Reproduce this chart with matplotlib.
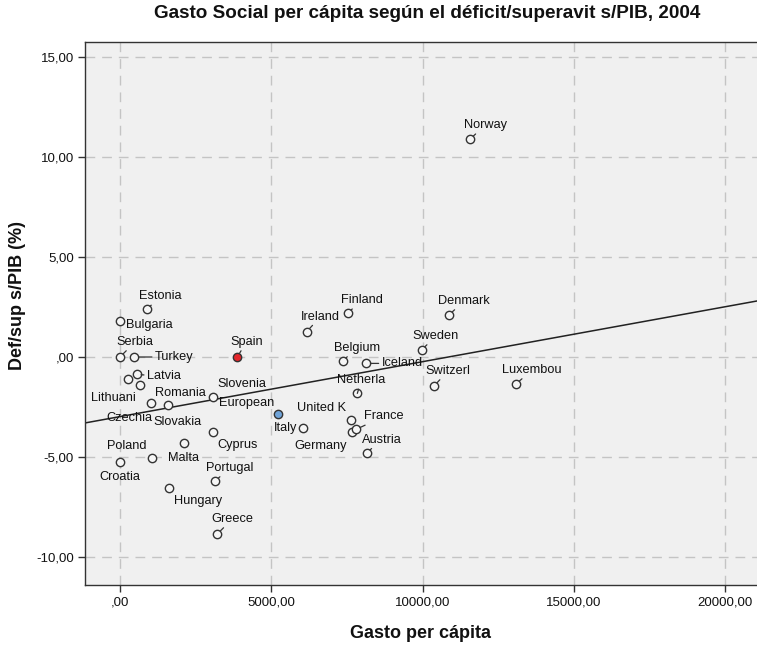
import matplotlib
matplotlib.use("Agg")
import matplotlib.pyplot as plt
import numpy as np

plt.rcParams['font.family'] = ['Liberation Sans', 'DejaVu Sans']

# ---- data ----
countries = ["Estonia", "Bulgaria", "Serbia", "Turkey", "Spain", "Lithuani", "Latvia",
             "Romania", "Czechia", "Slovakia", "Slovenia", "European", "Italy", "Cyprus",
             "Malta", "Poland", "Croatia", "Portugal", "Hungary", "Greece", "Germany",
             "United K", "France", "Austria", "Netherla", "Ireland", "Finland", "Belgium",
             "Iceland", "Denmark", "Sweden", "Switzerl", "Luxembou", "Norway"]
gasto = [882, 0, 0, 463, 3877, 275, 550,
         660, 1030, 1596, 3084, 5232, 6038, 3074,
         2125, 1048, 0, 3140, 1629, 3216, 7658,
         7625, 7800, 8153, 7843, 6170, 7526, 7360,
         8130, 10873, 9971, 10378, 13088, 11568]
deficit = [2.38, 1.78, 0.0, 0.0, 0.0, -1.12, -0.87,
           -1.40, -2.30, -2.42, -1.99, -2.85, -3.57, -3.77,
           -4.32, -5.04, -5.24, -6.20, -6.54, -8.85, -3.74,
           -3.15, -3.62, -4.79, -1.82, 1.27, 2.19, -0.20,
           -0.32, 2.10, 0.35, -1.45, -1.35, 10.89]
highlight = {"Spain": "#e3262b", "European": "#6fa3d8"}
fit_intercept = -2.98
fit_slope = 2.746e-4

x_ticks = [0, 5000, 10000, 15000, 20000]
x_ticklabels = [",00", "5000,00", "10000,00", "15000,00", "20000,00"]
y_ticks = [-10, -5, 0, 5, 10, 15]
y_ticklabels = ["-10,00", "-5,00", ",00", "5,00", "10,00", "15,00"]

# ---- label placement (offset in pixels from marker, x right, y up) ----
label_offsets = {
    "Estonia": (14, 13), "Bulgaria": (29, -4), "Serbia": (15, 15), "Turkey": (40, 0),
    "Spain": (9, 15), "Lithuani": (-15, -19), "Latvia": (27, -2), "Romania": (40, -8),
    "Czechia": (-22, -15), "Slovakia": (9, -17), "Slovenia": (29, 13), "European": (-32, 11),
    "Italy": (-17, 0), "Cyprus": (25, -13), "Malta": (-1, -15), "Poland": (-25, 12),
    "Croatia": (0, -15), "Portugal": (15, 13), "Hungary": (29, -13), "Greece": (15, 15),
    "Germany": (-31, -14), "United K": (-29, 12), "France": (28, 13), "Austria": (15, 13),
    "Netherla": (4, 13), "Ireland": (14, 15), "Finland": (14, 13), "Belgium": (14, 13),
    "Iceland": (36, 0), "Denmark": (15, 14), "Sweden": (14, 14), "Switzerl": (14, 15),
    "Luxembou": (16, 14), "Norway": (15, 14),
}
with_leader = {"Estonia", "Serbia", "Turkey", "Spain", "Latvia", "Portugal", "Greece",
               "Netherla", "Austria", "Ireland", "Finland", "Belgium", "Denmark", "Sweden",
               "Switzerl", "Norway", "Luxembou", "Iceland", "France"}

W, H, DPI = 757, 647, 100
fig = plt.figure(figsize=(W / DPI, H / DPI), dpi=DPI, facecolor="white")
L, R, T, B = 85, 757, 42, 585
ax = fig.add_axes([L / W, 1 - B / H, (R - L) / W, (B - T) / H])
ax.set_facecolor("#f0f0f0")

ax.set_xlim(-1157, 21053)
ax.set_ylim(-11.4, 15.75)

ax.set_xticks(x_ticks)
ax.set_xticklabels(x_ticklabels)
ax.set_yticks(y_ticks)
ax.set_yticklabels(y_ticklabels)
ax.tick_params(axis="both", direction="out", length=5, width=1, color="#333333",
               labelsize=9.5, labelcolor="#111111", pad=3)
ax.grid(True, color="#c4c4c4", linestyle=(0, (7, 5)), linewidth=1)
ax.set_axisbelow(True)
for s in ["left", "bottom", "top"]:
    ax.spines[s].set_color("#333333")
    ax.spines[s].set_linewidth(1)
ax.spines["right"].set_visible(False)

# trend line
xl = np.array(ax.get_xlim())
ax.plot(xl, fit_intercept + fit_slope * xl, color="#222222", lw=1.1, zorder=2)

# markers and labels
for name, gx, dy in zip(countries, gasto, deficit):
    fc = highlight.get(name, "#f6f6f6")
    ax.plot(gx, dy, marker="o", ms=6, mfc=fc, mec="#333333", mew=1.0, zorder=4,
            linestyle="none")
    ox, oy = label_offsets[name]
    kw = {}
    if name in with_leader:
        kw["arrowprops"] = dict(arrowstyle="-", color="#333333", lw=0.9,
                                shrinkA=0, shrinkB=3.2)
    ax.annotate(name, xy=(gx, dy), xytext=(ox, oy), textcoords="offset pixels",
                ha="center", va="center", fontsize=9.2, color="#111111", zorder=5, **kw)

fig.text(427 / W, 1 - 14 / H,
         "Gasto Social per cápita según el déficit/superavit s/PIB, 2004",
         ha="center", va="center", fontsize=13.6, fontweight="bold", color="#111111")
fig.text(421 / W, 1 - 634 / H, "Gasto per cápita", ha="center", va="center",
         fontsize=13, fontweight="bold", color="#111111")
fig.text(18 / W, 1 - 295 / H, "Def/sup s/PIB (%)", ha="center", va="center",
         rotation=90, fontsize=13, fontweight="bold", color="#111111")

fig.savefig("out.png", dpi=DPI)
